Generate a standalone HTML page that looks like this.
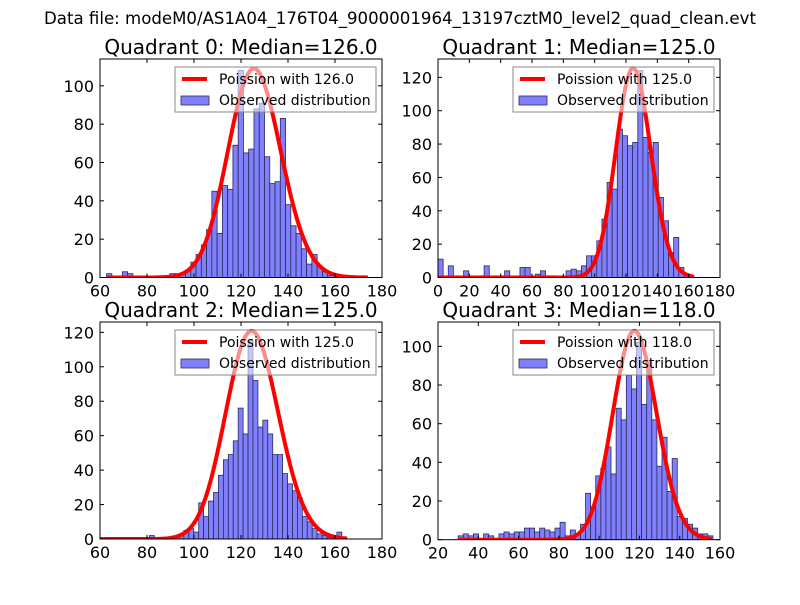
<!DOCTYPE html>
<html><head><meta charset="utf-8"><style>
body{margin:0;background:#fff}
svg text{font-family:"DejaVu Sans","Liberation Sans",sans-serif}
</style></head><body>
<svg id="fig" width="800" height="600" viewBox="0 0 800 600" xmlns="http://www.w3.org/2000/svg">
<rect width="800" height="600" fill="#fff"/>
<text x="400" y="24" font-size="16.6" text-anchor="middle">Data file: modeM0/AS1A04_176T04_9000001964_13197cztM0_level2_quad_clean.evt</text>
</svg>
<script>
// Quadrant 0
const q0Counts=[2,0,0,3,2,0,0,0,0,0,0,1,2,2,2,4,8,12,17,25,45,23,48,46,69,108,65,67,88,91,63,49,50,83,38,27,23,15,7,12,6,3,1,0,0,0,0,0,0,0];
const q0Bin=[62.8,2.24];
const q0Median=126.0;
const q0Peak=109;
const q0XTicks=[60,80,100,120,140,160,180];
const q0YTicks=[0,20,40,60,80,100];
// Quadrant 1
const q1Counts=[11,1,7,0,0,4,0,0,1,7,0,0,1,4,0,0,6,6,0,2,4,1,1,0,0,4,5,4,7,13,13,22,35,57,53,89,85,79,81,124,84,75,81,48,34,15,24,6,2,1];
const q1Bin=[0,3.27];
const q1Median=125.0;
const q1Peak=125.4;
const q1XTicks=[0,20,40,60,80,100,120,140,160,180];
const q1YTicks=[0,20,40,60,80,100,120];
// Quadrant 2
const q2Counts=[0,0,0,0,0,0,0,0,0,0,2,0,0,0,0,0,3,5,6,4,21,13,22,27,37,46,49,57,76,61,115,92,65,69,61,49,49,38,32,28,24,13,10,6,3,2,1,0,4,1];
const q2Bin=[60,2.1];
const q2Median=125.0;
const q2Peak=120.8;
const q2XTicks=[60,80,100,120,140,160,180];
const q2YTicks=[0,20,40,60,80,100,120];
// Quadrant 3
const q3Counts=[2,3,2,3,0,3,2,0,3,4,3,4,4,6,6,4,6,5,4,6,9,2,5,3,8,24,17,33,37,48,34,68,62,85,78,102,70,92,62,38,53,25,42,12,11,8,6,3,3,2];
const q3Bin=[30,2.53];
const q3Median=118.0;
const q3Peak=108;
const q3XTicks=[20,40,60,80,100,120,140,160];
const q3YTicks=[0,20,40,60,80,100];

const NS="http://www.w3.org/2000/svg";
const svg=document.getElementById('fig');
function mk(tag,attrs,parent){const e=document.createElementNS(NS,tag);for(const k in attrs)e.setAttribute(k,attrs[k]);(parent||svg).appendChild(e);return e;}
function lgam(n){
  if(n<2)return 0;
  return n*Math.log(n)-n+0.5*Math.log(2*Math.PI*n)+1/(12*n)-1/(360*n*n*n);
}
function panel(idx,box,xr,yr,counts,bin,median,peak,xt,yt){
  const [L,T,R,B]=box;
  const sx=v=>L+(v-xr[0])/(xr[1]-xr[0])*(R-L);
  const sy=v=>B-(v-yr[0])/(yr[1]-yr[0])*(B-T);
  const g=mk('g',{});
  
  
  const clipId='clip'+idx;
  const cp=mk('clipPath',{id:clipId},g);mk('rect',{x:L,y:T,width:R-L,height:B-T},cp);
  const plot=mk('g',{'clip-path':'url(#'+clipId+')'},g);
  counts.forEach((c,i)=>{
    if(c<=0)return;
    const x0=sx(bin[0]+i*bin[1]),x1=sx(bin[0]+(i+1)*bin[1]);
    const r=mk('rect',{x:x0,y:sy(c),width:x1-x0,height:sy(0)-sy(c),fill:'#8080ff',stroke:'#2a2a55','stroke-width':0.8},plot);
    
    
  });
  const kmin=Math.ceil(bin[0]),kmax=Math.floor(bin[0]+counts.length*bin[1]);
  const lp=k=>k*Math.log(median)-median-lgam(k);
  const mode=Math.floor(median);const lpm=lp(mode);
  let d='';
  for(let k=kmin;k<=kmax;k++){const v=peak*Math.exp(lp(k)-lpm);d+=(k===kmin?'M':'L')+sx(k).toFixed(2)+','+sy(v).toFixed(2);}
  const cur=mk('path',{d:d,fill:'none',stroke:'#ff0000','stroke-width':4,'stroke-linejoin':'round'},plot);
  
  
  mk('rect',{x:L,y:T,width:R-L,height:B-T,fill:'none',stroke:'#000','stroke-width':1},g);
  xt.forEach(v=>{
    const x=sx(v);
    mk('line',{x1:x,y1:B,x2:x,y2:B-4,stroke:'#000'},g);
    mk('line',{x1:x,y1:T,x2:x,y2:T+4,stroke:'#000'},g);
    const t=mk('text',{x:x,y:B+19,'font-size':16,'text-anchor':'middle'},g);t.textContent=v;
    
    
  });
  yt.forEach(v=>{
    const y=sy(v);
    mk('line',{x1:L,y1:y,x2:L+4,y2:y,stroke:'#000'},g);
    mk('line',{x1:R,y1:y,x2:R-4,y2:y,stroke:'#000'},g);
    const t=mk('text',{x:L-6,y:y+6,'font-size':16,'text-anchor':'end'},g);t.textContent=v;
    
    
  });
  const ti=mk('text',{x:(L+R)/2,y:T-5,'font-size':20,'text-anchor':'middle'},g);
  ti.textContent='Quadrant '+idx+': Median='+median.toFixed(1);
  
  
  const lg=mk('g',{},g);
  
  
  const lx=L+75,ly=T+8;
  mk('rect',{x:lx,y:ly,width:201,height:45,fill:'#fff','fill-opacity':0.55,stroke:'#888','stroke-width':1},lg);
  mk('line',{x1:lx+7,y1:ly+12,x2:lx+32,y2:ly+12,stroke:'#ff0000','stroke-width':4},lg);
  const t1=mk('text',{x:lx+44,y:ly+17,'font-size':14},lg);t1.textContent='Poission with '+median.toFixed(1);
  
  
  mk('rect',{x:lx+6,y:ly+29,width:28,height:9,fill:'#8080ff',stroke:'#2a2a55','stroke-width':0.8},lg);
  const t2=mk('text',{x:lx+44,y:ly+38,'font-size':14},lg);t2.textContent='Observed distribution';
  
  
}
panel(0,[100,59,382,277.5],[60,180],[0,114],q0Counts,q0Bin,q0Median,q0Peak,q0XTicks,q0YTicks);
panel(1,[438,59,720,277.5],[0,180],[0,131],q1Counts,q1Bin,q1Median,q1Peak,q1XTicks,q1YTicks);
panel(2,[100,322,382,539],[60,180],[0,126],q2Counts,q2Bin,q2Median,q2Peak,q2XTicks,q2YTicks);
panel(3,[438,322,720,539.7],[20,160],[0,112.6],q3Counts,q3Bin,q3Median,q3Peak,q3XTicks,q3YTicks);
</script>
</body></html>
